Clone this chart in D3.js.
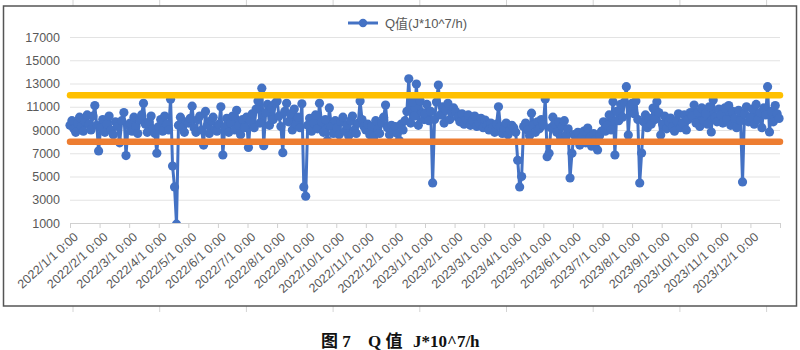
<!DOCTYPE html>
<html>
<head>
<meta charset="utf-8">
<script src="https://cdn.jsdelivr.net/npm/d3@7"></script>
<style>
  html, body { margin: 0; padding: 0; background: #ffffff; }
  svg { display: block; }
</style>
</head>
<body>
<svg id="chart" width="800" height="350"></svg>
<script>
// ---------------- data ----------------
const monthLabels = [
  "2022/1/1 0:00","2022/2/1 0:00","2022/3/1 0:00","2022/4/1 0:00","2022/5/1 0:00","2022/6/1 0:00",
  "2022/7/1 0:00","2022/8/1 0:00","2022/9/1 0:00","2022/10/1 0:00","2022/11/1 0:00","2022/12/1 0:00",
  "2023/1/1 0:00","2023/2/1 0:00","2023/3/1 0:00","2023/4/1 0:00","2023/5/1 0:00","2023/6/1 0:00",
  "2023/7/1 0:00","2023/8/1 0:00","2023/9/1 0:00","2023/10/1 0:00","2023/11/1 0:00","2023/12/1 0:00"
];
const yTicks = [1000, 3000, 5000, 7000, 9000, 11000, 13000, 15000, 17000];
const upperLimit = 12000;
const lowerLimit = 8000;
const legendLabel = "Q值(J*10^7/h)";
const captionParts = ["图 7", "Q 值", "J*10^7/h"];

// Q values sampled every second day (day-of-year 1, 3, 5, ...), one row per month
const q2022 = [
  9400, 9800, 9100, 8800, 9600, 10100, 9300, 8900, 9700, 10300, 9500, 9000, 10200, 11100, 9400, 7200,   // Jan
  9200, 9900, 8800, 9500, 10200, 9000, 8600, 9700, 9300, 7900, 9800, 10500, 6800, 9400,                // Feb
  9600, 8900, 10100, 9300, 8700, 9900, 10300, 11300, 9500, 8800, 9700, 10200, 9100, 8700, 7000,        // Mar
  9300, 9900, 8900, 10200, 9500, 9000, 11650, 5900, 4100, 900, 9400, 10100, 9200, 8800, 9700,          // Apr
  9600, 10000, 11050, 9200, 8800, 9900, 10200, 9000, 7700, 10600, 9400, 8700, 9800, 10100, 9100, 8900, // May
  9500, 11000, 6850, 9300, 10000, 8800, 9600, 10200, 9000, 10700, 9400, 8600, 9900, 9200, 10100,       // Jun
  7500, 9800, 10400, 9200, 10800, 11500, 9600, 12600, 7650, 10500, 11200, 9400, 10900, 9900, 11300,    // Jul
  11500, 10200, 9300, 7050, 10600, 11300, 9700, 10400, 9000, 10800, 9500, 10100, 9200, 11250, 4100, 3300, // Aug
  9400, 10000, 8900, 9600, 10300, 9100, 11300, 9700, 8800, 9900, 8100, 10900, 9300, 8700, 9800,       // Sep
  9200, 8600, 9700, 10100, 8900, 9400, 8500, 9800, 10200, 9000, 8700, 9600, 11500, 9900, 9300,        // Oct
  9000, 9500, 8600, 9300, 8400, 9800, 9100, 8700, 9600, 10100, 11150, 9200, 8600, 9400, 8900,         // Nov
  9300, 8700, 8100, 9500, 9000, 9800, 10600, 13400, 9600, 11400, 10200, 12950, 9400, 11500, 10500, 9900 // Dec
];
const q2023 = [
  10400, 11200, 9800, 10600, 4450, 9900, 11400, 12870, 10300, 11000, 9600, 10700, 11300, 9900, 10500, 10900, // Jan
  10600, 10100, 9700, 10400, 9500, 9900, 10300, 9400, 9800, 10200, 9300, 9600, 10000, 9200,           // Feb
  9850, 9400, 9000, 9600, 9200, 8800, 9500, 11000, 9300, 8700, 9100, 9600, 8600, 9000, 9400,          // Mar
  9200, 8800, 6400, 4100, 5000, 9300, 9600, 9000, 8500, 10450, 9400, 8800, 9700, 9100, 9900,          // Apr
  9400, 11670, 6700, 7000, 9200, 10100, 9500, 8800, 9700, 8400, 9300, 9800, 8600, 9100, 4870, 7000,   // May
  8600, 8100, 8800, 7700, 8400, 8900, 7900, 9170, 8300, 7600, 8700, 8200, 7280, 8500, 8900,           // Jun
  9700, 8900, 9400, 10300, 9000, 11430, 6850, 10600, 9800, 11200, 10100, 11400, 12730, 8570, 11000,   // Jul
  11300, 10400, 11500, 9900, 4440, 7020, 9700, 10300, 9200, 10000, 9500, 10890, 9900, 11430, 10500, 8570, // Aug
  9500, 10200, 9100, 9700, 10030, 9300, 8900, 9800, 10400, 9200, 9600, 10300, 9000, 9900, 10500,      // Sep
  10200, 11150, 9600, 10500, 9300, 10900, 9800, 10400, 9500, 11000, 8830, 11580, 10100, 9700, 10800,  // Oct
  10300, 9600, 10900, 9900, 11100, 9400, 10600, 10000, 9200, 10700, 9800, 4530, 10400, 11000, 9700,   // Nov
  10100, 10800, 9500, 11200, 9900, 10500, 9200, 10900, 10300, 12730, 8830, 10600, 9700, 11100, 10400, 10000 // Dec
];

// ---------------- build points ----------------
function toPoints(values, year) {
  return values.map((v, i) => {
    const date = new Date(year, 0, 1 + 2 * i);
    const daysInMonth = new Date(year, date.getMonth() + 1, 0).getDate();
    const pos = (year - 2022) * 12 + date.getMonth() + (date.getDate() - 1) / daysInMonth;
    return { pos, value: v };
  });
}
const points = toPoints(q2022, 2022).concat(toPoints(q2023, 2023));

// ---------------- layout ----------------
const svg = d3.select("#chart");
const plotLeft = 70, plotRight = 780, plotTop = 37, plotBottom = 223;
const x = d3.scaleLinear().domain([0, monthLabels.length]).range([plotLeft, plotRight]);
const y = d3.scaleLinear().domain([yTicks[0], yTicks[yTicks.length - 1]]).range([plotBottom, plotTop]);

const blue = "#4472C4", gold = "#FFC000", orange = "#ED7D31", grey = "#595959";

// spreadsheet cell lines peeking outside the chart frame
const cellX = d3.range(73, 800, 86.7);
svg.append("g").selectAll("line").data(cellX).join("line")
  .attr("x1", d => d).attr("x2", d => d).attr("y1", 0).attr("y2", 6)
  .attr("stroke", "#d4d4d4").attr("stroke-width", 1);
svg.append("g").selectAll("line").data(cellX).join("line")
  .attr("x1", d => d).attr("x2", d => d).attr("y1", 306).attr("y2", 312)
  .attr("stroke", "#d4d4d4").attr("stroke-width", 1);

// chart frame
svg.append("rect")
  .attr("x", 3.5).attr("y", 6).attr("width", 793).attr("height", 300)
  .attr("fill", "#fff").attr("stroke", "#555").attr("stroke-width", 1.5);

// gridlines
svg.append("g")
  .attr("transform", `translate(${plotLeft},0)`)
  .call(d3.axisLeft(y).tickValues(yTicks.slice(1)).tickSize(-(plotRight - plotLeft)).tickFormat(""))
  .call(g => g.select(".domain").remove())
  .call(g => g.selectAll("line").attr("stroke", "#e3e3e3"));

// y labels
svg.append("g")
  .attr("transform", `translate(62,0)`)
  .call(d3.axisLeft(y).tickValues(yTicks).tickSize(0).tickPadding(2).tickFormat(d3.format("d")))
  .call(g => g.select(".domain").remove())
  .call(g => g.selectAll("text")
    .attr("fill", grey).attr("font-size", "12.5px").attr("font-family", "'Liberation Sans', Arial, sans-serif"));

// x axis
const xAxis = svg.append("g")
  .attr("transform", `translate(0,${plotBottom})`)
  .call(d3.axisBottom(x).tickValues(d3.range(monthLabels.length + 1)).tickSize(5).tickFormat(""));
xAxis.select(".domain").attr("stroke", "#d0d0d0");
xAxis.selectAll(".tick line").attr("stroke", "#d0d0d0");

svg.append("g").selectAll("text").data(monthLabels).join("text")
  .attr("transform", (d, i) => `translate(${x(i) + 9},238) rotate(-42)`)
  .attr("text-anchor", "end")
  .attr("fill", grey)
  .attr("font-size", "12.5px")
  .attr("font-family", "'Liberation Sans', Arial, sans-serif")
  .text(d => d);

// series
svg.append("clipPath").attr("id", "plotClip")
  .append("rect").attr("x", plotLeft - 10).attr("y", plotTop - 20)
  .attr("width", plotRight - plotLeft + 20).attr("height", plotBottom - plotTop + 20);

const series = svg.append("g").attr("clip-path", "url(#plotClip)");
series.append("path")
  .datum(points)
  .attr("fill", "none")
  .attr("stroke", blue)
  .attr("stroke-width", 3)
  .attr("stroke-linejoin", "round")
  .attr("d", d3.line().x(d => x(d.pos)).y(d => y(d.value)));
series.selectAll("circle").data(points).join("circle")
  .attr("cx", d => x(d.pos)).attr("cy", d => y(d.value)).attr("r", 4.6)
  .attr("fill", blue);

// limit lines
[[upperLimit, gold], [lowerLimit, orange]].forEach(([v, c]) => {
  svg.append("line")
    .attr("x1", plotLeft).attr("x2", plotRight)
    .attr("y1", y(v)).attr("y2", y(v))
    .attr("stroke", c).attr("stroke-width", 6.5).attr("stroke-linecap", "round");
});

// legend
const lg = svg.append("g").attr("transform", "translate(348,23)");
lg.append("line").attr("x1", 0).attr("x2", 30).attr("y1", 0).attr("y2", 0)
  .attr("stroke", blue).attr("stroke-width", 3);
lg.append("circle").attr("cx", 15).attr("cy", 0).attr("r", 4.2).attr("fill", blue);
lg.append("text").attr("x", 37).attr("y", 4.5)
  .attr("fill", grey).attr("font-size", "13px")
  .attr("font-family", "'Liberation Sans', 'Noto Sans CJK SC', sans-serif")
  .text(legendLabel);

// caption
const capX = [321, 368, 413];
svg.append("g").selectAll("text").data(captionParts).join("text")
  .attr("x", (d, i) => capX[i]).attr("y", 347)
  .attr("font-size", "17px").attr("font-weight", "bold")
  .attr("font-family", "'Liberation Serif', 'Times New Roman', 'Noto Sans CJK SC', serif")
  .attr("fill", "#111")
  .text(d => d);
</script>
</body>
</html>
